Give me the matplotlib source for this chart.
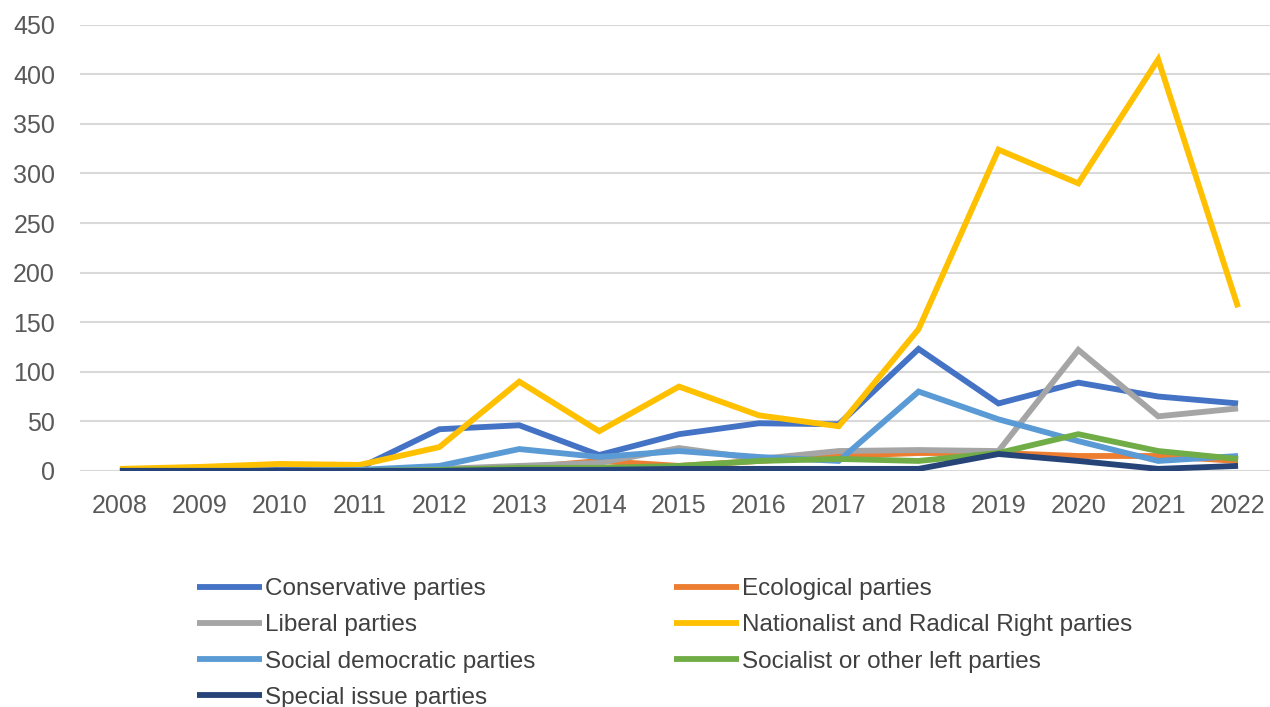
import matplotlib
matplotlib.use("Agg")
import matplotlib.pyplot as plt

years = [2008, 2009, 2010, 2011, 2012, 2013, 2014, 2015, 2016, 2017, 2018, 2019, 2020, 2021, 2022]
conservative = [0, 0, 1, 3, 42, 46, 16, 37, 48, 47, 123, 68, 89, 75, 68]
ecological = [0, 0, 0, 0, 1, 3, 10, 5, 10, 15, 18, 18, 15, 15, 10]
liberal = [0, 0, 0, 0, 2, 5, 8, 23, 12, 20, 21, 20, 122, 55, 63]
nationalist = [2, 4, 7, 6, 24, 90, 40, 85, 56, 45, 143, 324, 290, 415, 165]
social_dem = [0, 0, 0, 1, 5, 22, 14, 20, 14, 10, 80, 52, 30, 10, 15]
socialist = [0, 0, 0, 0, 1, 3, 3, 5, 10, 12, 10, 18, 37, 20, 12]
special = [0, 0, 0, 0, 0, 1, 1, 2, 2, 2, 2, 17, 10, 2, 5]

series = [
    ("Conservative parties", conservative, "#4472C4"),
    ("Ecological parties", ecological, "#ED7D31"),
    ("Liberal parties", liberal, "#A5A5A5"),
    ("Nationalist and Radical Right parties", nationalist, "#FFC000"),
    ("Social democratic parties", social_dem, "#5B9BD5"),
    ("Socialist or other left parties", socialist, "#70AD47"),
    ("Special issue parties", special, "#264478"),
]

plt.rcParams['font.family'] = ['Liberation Sans', 'DejaVu Sans']
fig = plt.figure(figsize=(12.7, 7.07), dpi=100)
ax = fig.add_axes([0.063, 0.334, 0.937, 0.631])

handles = {}
for name, vals, col in series:
    h, = ax.plot(years, vals, color=col, lw=4.2, solid_joinstyle='miter', solid_capstyle='butt', label=name)
    handles[name] = h

ax.set_ylim(0, 450)
ax.set_yticks(range(0, 451, 50))
ax.set_xlim(2007.5, 2022.4)
ax.set_xticks(years)
ax.grid(axis='y', color='#D9D9D9', lw=1.5)
ax.set_axisbelow(True)
for s in ax.spines.values():
    s.set_visible(False)
ax.tick_params(axis='both', length=0, labelsize=18, labelcolor='#595959')
ax.tick_params(axis='x', pad=17)
ax.tick_params(axis='y', pad=18)

order = ["Conservative parties", "Liberal parties", "Social democratic parties", "Special issue parties",
         "Ecological parties", "Nationalist and Radical Right parties", "Socialist or other left parties"]
leg = fig.legend([handles[n] for n in order], order, ncol=2, loc='upper left',
                 bbox_to_anchor=(0.155, 0.182), frameon=False, fontsize=17.5,
                 handlelength=2.7, handletextpad=0.1, columnspacing=5.7,
                 labelspacing=0.58, borderaxespad=0, borderpad=0)
for t in leg.get_texts():
    t.set_color('#404040')

fig.savefig("out.png", dpi=100)
